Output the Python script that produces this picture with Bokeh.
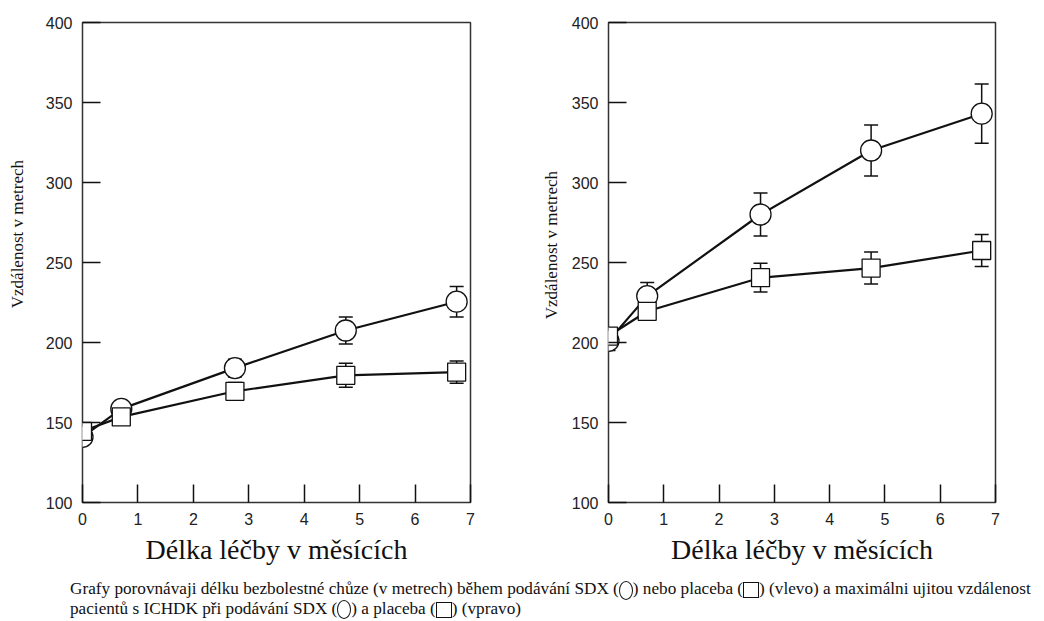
from bokeh.plotting import figure
from bokeh.models import ColumnDataSource, Whisker, TeeHead, FixedTicker, Div
from bokeh.layouts import row, column
from bokeh.embed import file_html
from bokeh.resources import INLINE

# ---- data ----
months = [0, 0.7, 2.75, 4.75, 6.75]
x_ticks = [0, 1, 2, 3, 4, 5, 6, 7]
y_ticks = [100, 150, 200, 250, 300, 350, 400]

left_sdx = [141, 158.5, 184, 207.5, 225.5]
left_sdx_err = [0, 2, 5.5, 8.5, 9.5]
left_placebo = [144.5, 153.5, 169.5, 179.5, 181.5]
left_placebo_err = [0, 0, 5.5, 7.5, 7]

right_sdx = [201, 229, 280, 320, 343]
right_sdx_err = [6, 8.5, 13.5, 16, 18.5]
right_placebo = [204, 219.5, 240.5, 246.5, 257.5]
right_placebo_err = [5, 5, 9, 10, 10]

y_label = "Vzdálenost v metrech"
x_label = "Délka léčby v měsících"


def make_panel(sdx, sdx_err, plac, plac_err, width, bl, br):
    p = figure(width=width, height=575, output_backend="svg", toolbar_location=None,
               x_range=(0, 7), y_range=(100, 400),
               min_border_left=bl, min_border_right=br, min_border_top=22, min_border_bottom=73)
    p.grid.visible = False
    p.outline_line_color = "#333333"
    p.outline_line_width = 1.5
    p.background_fill_color = "white"
    p.border_fill_color = "white"

    for ax in (p.xaxis[0], p.yaxis[0]):
        ax.axis_line_color = None
        ax.major_tick_in = 18
        ax.major_tick_out = 0
        ax.minor_tick_line_color = None
        ax.major_tick_line_color = "#111111"
        ax.major_tick_line_width = 1.5
        ax.major_label_text_font = "Liberation Sans"
        ax.major_label_text_font_size = "16px"
        ax.major_label_text_color = "#222222"
        ax.major_label_standoff = 10

    p.xaxis.ticker = FixedTicker(ticks=x_ticks)
    p.yaxis.ticker = FixedTicker(ticks=y_ticks)
    p.xaxis.axis_label = x_label
    p.xaxis.axis_label_text_font = "Liberation Serif"
    p.xaxis.axis_label_text_font_style = "normal"
    p.xaxis.axis_label_text_color = "#111111"
    p.xaxis.axis_label_text_font_size = "28px"
    p.xaxis.axis_label_standoff = 6

    for vals, errs in ((sdx, sdx_err), (plac, plac_err)):
        src = ColumnDataSource(dict(x=months, y=vals,
                                    lo=[v - e for v, e in zip(vals, errs)],
                                    hi=[v + e for v, e in zip(vals, errs)]))
        p.line("x", "y", source=src, line_color="#111111", line_width=2.2)
        w = Whisker(base="x", upper="hi", lower="lo", source=src,
                    line_color="#111111", line_width=1.5,
                    upper_head=TeeHead(size=14, line_color="#111111", line_width=1.5),
                    lower_head=TeeHead(size=14, line_color="#111111", line_width=1.5))
        p.add_layout(w)

    p.scatter(months, sdx, marker="circle", size=21, fill_color="white",
              line_color="#111111", line_width=1.3)
    p.scatter(months, plac, marker="square", size=18, fill_color="white",
              line_color="#111111", line_width=1.3)
    return p


SERIF_STYLE = {"font-family": "Liberation Serif, serif", "color": "#111111"}


def y_title(width, left, top):
    html = (f'<div style="position:absolute;left:{left}px;top:{top}px;width:20px;'
            'writing-mode:vertical-rl;transform:rotate(180deg);white-space:nowrap;'
            f'font-size:17px;line-height:20px;">{y_label}</div>')
    return Div(text=html, width=width, height=575, margin=0, styles=SERIF_STYLE)


yl1 = y_title(36, 8, 160)
p1 = make_panel(left_sdx, left_sdx_err, left_placebo, left_placebo_err, 484, 46, 50)
yl2 = y_title(44, 22, 171)
p2 = make_panel(right_sdx, right_sdx_err, right_placebo, right_placebo_err, 466, 44, 35)

circ = ('<span style="display:inline-block;width:14px;height:19px;border:1px solid #111;'
        'border-radius:50%;vertical-align:middle;"></span>')
sq = ('<span style="display:inline-block;width:16px;height:16px;border:1px solid #111;'
      'vertical-align:middle;"></span>')
caption_html = (
    f'Grafy porovnávaji délku bezbolestné chůze (v metrech) během podávání SDX ({circ}) '
    f'nebo placeba ({sq}) (vlevo) a maximálni ujitou vzdálenost<br>'
    f'pacientů s ICHDK při podávání SDX ({circ}) a placeba ({sq}) (vpravo)'
)
caption = Div(text=caption_html, width=1030, height=44, margin=0,
              styles={"font-family": "Liberation Serif, serif", "font-size": "17.2px",
                      "line-height": "18px", "color": "#111111", "white-space": "nowrap",
                      "padding-top": "5px", "padding-left": "70px"})

layout = column(row(yl1, p1, yl2, p2), caption)
open("out.html", "w").write(file_html(layout, INLINE))
